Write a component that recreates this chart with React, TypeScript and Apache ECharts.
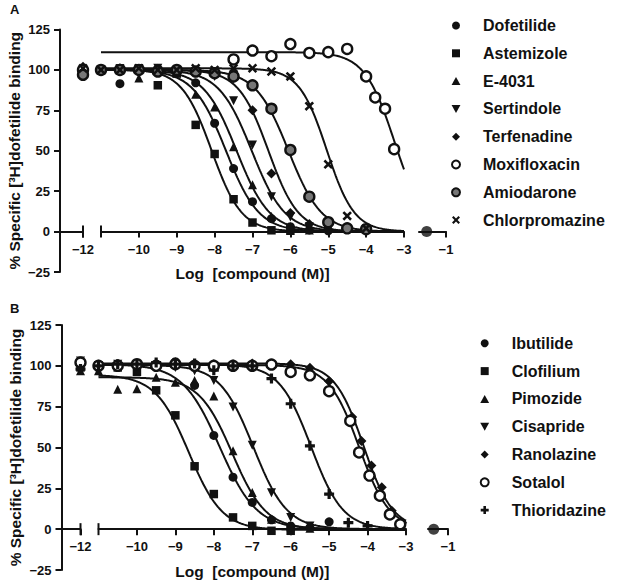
import { useEffect, useRef } from "react";
import * as echarts from "echarts";

// ---------------- Panel A data ----------------
const A_NAMES = ["Dofetilide", "Astemizole", "E-4031", "Sertindole", "Terfenadine", "Moxifloxacin", "Amiodarone", "Chlorpromazine"];

const A_DOFETILIDE_LOG = [-11, -10.5, -10, -9.5, -9, -8.5, -8, -7.5, -7, -6.5, -6, -5.5, -5];
const A_DOFETILIDE_VAL = [100, 91.5, 100, 99, 98, 92, 67, 39, 18.5, 8, 3, 1, 0.5];
const A_ASTEMIZOLE_LOG = [-11, -10.5, -10, -9.5, -9, -8.5, -8, -7.5, -7, -6.5, -6];
const A_ASTEMIZOLE_VAL = [100, 101, 101, 90.5, 98, 66, 48, 20, 5.6, 0.8, 0.5];
const A_E4031_LOG = [-11, -10.5, -10, -9.5, -9, -8.5, -8, -7.5, -7, -6.5, -6, -5.5];
const A_E4031_VAL = [100, 100, 95, 101, 98, 85, 77, 52.5, 29, 9.3, 3, 1];
const A_SERTINDOLE_LOG = [-11, -10.5, -10, -9.5, -9, -8.5, -8, -7.5, -7, -6.5, -6, -5.5, -5];
const A_SERTINDOLE_VAL = [100, 100, 100, 101, 99, 98, 96, 81, 53.5, 21.6, 9, 3, 1];
const A_TERFENADINE_LOG = [-11, -10.5, -10, -9.5, -9, -8.5, -8, -7.5, -7, -6.5, -6, -5.5, -5];
const A_TERFENADINE_VAL = [100, 101, 100, 100, 99, 99, 97, 95, 75, 36, 11.5, 4.7, 1.5];
const A_MOXIFLOXACIN_LOG = [-7.5, -7, -6.5, -6, -5.5, -5, -4.5, -4, -3.76, -3.5, -3.26];
const A_MOXIFLOXACIN_VAL = [106.5, 112, 108.5, 116, 110.5, 111, 113, 96, 83, 76, 51];
const A_AMIODARONE_LOG = [-11, -10.5, -10, -9.5, -9, -8.5, -8, -7.5, -7, -6.5, -6, -5.5, -5, -4.5, -4];
const A_AMIODARONE_VAL = [100, 100, 100, 99, 100, 99, 98, 96, 90.5, 76, 50.5, 21.6, 5.8, 2, 1.5];
const A_CHLORPROMAZINE_LOG = [-11, -10.5, -10, -9.5, -9, -8.5, -8, -7.5, -7, -6.5, -6, -5.5, -5, -4.5, -4];
const A_CHLORPROMAZINE_VAL = [100, 100, 101, 100, 100, 101, 100, 101, 101, 99, 96, 77.6, 41.6, 9.7, 2];

const A_LOGS = [A_DOFETILIDE_LOG, A_ASTEMIZOLE_LOG, A_E4031_LOG, A_SERTINDOLE_LOG, A_TERFENADINE_LOG, A_MOXIFLOXACIN_LOG, A_AMIODARONE_LOG, A_CHLORPROMAZINE_LOG];
const A_VALS = [A_DOFETILIDE_VAL, A_ASTEMIZOLE_VAL, A_E4031_VAL, A_SERTINDOLE_VAL, A_TERFENADINE_VAL, A_MOXIFLOXACIN_VAL, A_AMIODARONE_VAL, A_CHLORPROMAZINE_VAL];
const A_CONTROL = [100, 98, 101, 99, 102, 100, 97, 101]; // at log -12
const A_FIT_LOGIC50 = [-7.7, -8.08, -7.42, -7.02, -6.58, -3.25, -6.05, -5.04];
const A_FIT_HILL = [1, 1.1, 1, 1, 1.1, 1.1, 1, 1.2];
const A_FIT_TOP = [100, 100.5, 100, 100, 100, 111, 100, 101];
const A_FIT_BOTTOM = [0, 0, 0, 0, 0, 0, 0, 0];

// ---------------- Panel B data ----------------
const B_NAMES = ["Ibutilide", "Clofilium", "Pimozide", "Cisapride", "Ranolazine", "Sotalol", "Thioridazine"];

const B_IBUTILIDE_LOG = [-11, -10.5, -10, -9.5, -9, -8.5, -8, -7.5, -7, -6.5, -6, -5.5, -5];
const B_IBUTILIDE_VAL = [101, 100, 101, 101, 102.5, 88, 57.4, 31.8, 16.4, 5.7, 2, 1, 4.5];
const B_CLOFILIUM_LOG = [-11, -10.5, -10, -9.5, -9, -8.5, -8, -7.5, -7, -6.5, -6];
const B_CLOFILIUM_VAL = [100, 99, 96.3, 85, 69.7, 38.5, 21.5, 7.2, 2, -1, -1];
const B_PIMOZIDE_LOG = [-11, -10.5, -10, -9.5, -9, -8.5, -8, -7.5, -7, -6.5, -6, -5.5];
const B_PIMOZIDE_VAL = [97, 85.6, 86, 93, 90, 91, 81.5, 48, 22.5, 6, 1.5, 0.5];
const B_CISAPRIDE_LOG = [-11, -10.5, -10, -9.5, -9, -8.5, -8, -7.5, -7, -6.5, -6, -5.5];
const B_CISAPRIDE_VAL = [100, 101, 100, 100, 99, 97, 91, 74.8, 51.4, 22.3, 7.2, 2];
const B_RANOLAZINE_LOG = [-11, -10.5, -10, -9.5, -9, -8.5, -8, -7.5, -7, -6.5, -6, -5.5, -5, -4.4, -4.16, -3.9, -3.63, -3.37, -3.1];
const B_RANOLAZINE_VAL = [100, 101, 100, 101, 102, 101, 101, 101, 101.4, 101, 101, 98.8, 90.5, 68.7, 54, 39, 25.6, 11.3, 4];
const B_SOTALOL_LOG = [-11, -10.5, -10, -9.5, -9, -8.5, -8, -7.5, -7, -6.5, -6, -5.5, -5, -4.45, -4.22, -3.95, -3.68, -3.42, -3.15];
const B_SOTALOL_VAL = [100, 100, 101, 100, 101, 100, 100, 100, 100, 100.8, 96.3, 94.2, 84.5, 66.3, 47, 32.8, 20.5, 9, 3];
const B_THIORIDAZINE_LOG = [-11, -10.5, -10, -9.5, -9, -8.5, -8, -7.5, -7, -6.5, -6, -5.5, -5, -4.5, -4];
const B_THIORIDAZINE_VAL = [100, 101, 101, 102, 101, 101.4, 97.3, 100, 100, 92.2, 76.8, 51, 21.5, 4, 2];

const B_LOGS = [B_IBUTILIDE_LOG, B_CLOFILIUM_LOG, B_PIMOZIDE_LOG, B_CISAPRIDE_LOG, B_RANOLAZINE_LOG, B_SOTALOL_LOG, B_THIORIDAZINE_LOG];
const B_VALS = [B_IBUTILIDE_VAL, B_CLOFILIUM_VAL, B_PIMOZIDE_VAL, B_CISAPRIDE_VAL, B_RANOLAZINE_VAL, B_SOTALOL_VAL, B_THIORIDAZINE_VAL];
const B_CONTROL = [101, 99, 97, 103, 100, 102, 98];
const B_FIT_LOGIC50 = [-7.85, -8.65, -7.52, -6.97, -4.1, -4.22, -5.47];
const B_FIT_HILL = [0.9, 1, 1, 1, 1.15, 1.1, 1.05];
const B_FIT_TOP = [101, 94.5, 93, 100.5, 101.5, 100.5, 101];
const B_FIT_BOTTOM = [0, -0.5, 0, 0, 0, 0, 0];

// non-specific binding point (right-hand segment)
const NSB_LOG = -1.5;
const NSB_VAL = 0;

// axis ticks
const X_TICKS_LEFT = [-12];
const X_TICKS_MAIN = [-10, -9, -8, -7, -6, -5, -4, -3];
const X_TICKS_RIGHT = [-1];
const X_MAIN_MIN = -11;
const X_MAIN_MAX = -3;
const X_RIGHT_MIN = -1.7;
const Y_MIN = -25;
const Y_MAX = 125;
const Y_STEP = 25;

// ---------------- styles ----------------
const FONT = "Liberation Sans, Arial, sans-serif";
const BLACK = "#111";
const SYM_RECT = "path://M0,0H10V10H0Z";
const SYM_TRI = "path://M5,0L10,9L0,9Z";
const SYM_INVTRI = "path://M0,0L10,0L5,9Z";
const SYM_DIAMOND = "path://M5,0L10,5L5,10L0,5Z";
const SYM_X = "path://M0,1.9L1.9,0L5,3.1L8.1,0L10,1.9L6.9,5L10,8.1L8.1,10L5,6.9L1.9,10L0,8.1L3.1,5Z";
const SYM_PLUS = "path://M3.4,0H6.6V3.4H10V6.6H6.6V10H3.4V6.6H0V3.4H3.4Z";

type Sty = { symbol: string; size: number; fill: string; border: string; bw: number };
const filled = (symbol: string, size: number): Sty => ({ symbol, size, fill: BLACK, border: BLACK, bw: 0 });
const OPEN_CIRCLE: Sty = { symbol: "circle", size: 10, fill: "#fff", border: BLACK, bw: 2.4 };
const DOT_CIRCLE: Sty = { symbol: "circle", size: 10, fill: "#777", border: BLACK, bw: 2.4 };

const A_STYLES: Sty[] = [
  filled("circle", 9), filled(SYM_RECT, 8.5), filled(SYM_TRI, 9), filled(SYM_INVTRI, 9),
  filled(SYM_DIAMOND, 10), OPEN_CIRCLE, DOT_CIRCLE, filled(SYM_X, 9.5),
];
const B_STYLES: Sty[] = [
  filled("circle", 9), filled(SYM_RECT, 8.5), filled(SYM_TRI, 9), filled(SYM_INVTRI, 9),
  filled(SYM_DIAMOND, 10), OPEN_CIRCLE, filled(SYM_PLUS, 10),
];

const minus = (v: number) => (v < 0 ? "\u2212" + Math.abs(v) : String(v));

function hillCurve(c: number, h: number, top: number, bottom: number) {
  const pts: number[][] = [];
  const n = 320;
  for (let k = 0; k <= n; k++) {
    const L = X_MAIN_MIN + ((X_MAIN_MAX - X_MAIN_MIN) * k) / n;
    pts.push([L, bottom + (top - bottom) / (1 + Math.pow(10, (L - c) * h))]);
  }
  return pts;
}

type Layout = {
  top: number; height: number; yAxisX: number; leftEnd: number;
  mainLeft: number; mainRight: number; rightLeft: number; rightEnd: number;
  legendLeft: number; legendTop: number;
};

const LAYOUT_A: Layout = {
  top: 29.5, height: 242.5, yAxisX: 60, leftEnd: 83, mainLeft: 101, mainRight: 404,
  rightLeft: 419, rightEnd: 446, legendLeft: 446, legendTop: 12.5,
};
const LAYOUT_B: Layout = {
  top: 325, height: 245, yAxisX: 61.5, leftEnd: 80.5, mainLeft: 98.5, mainRight: 406,
  rightLeft: 428, rightEnd: 448, legendLeft: 474.7, legendTop: 330.3,
};

const axisLineStyle = { color: BLACK, width: 2 };
const tickLabel = { fontSize: 13, fontWeight: "bold" as const, fontFamily: FONT, color: BLACK };

function buildPanel(
  g: number, L: Layout, names: string[], logs: number[][], vals: number[][], control: number[],
  ic50: number[], hill: number[], top: number[], bottom: number[], styles: Sty[],
) {
  const unit = (L.mainRight - L.mainLeft) / (X_MAIN_MAX - X_MAIN_MIN);
  const leftMin = -12 - (L.leftEnd - L.yAxisX) / unit;
  // x axis drawn along the y = 0 line: shift it up from the grid's bottom edge
  const zeroOffset = -(L.height * (0 - Y_MIN)) / (Y_MAX - Y_MIN);
  const grids = [
    { left: L.yAxisX, top: L.top, width: L.leftEnd - L.yAxisX, height: L.height, outerBoundsMode: "none" },
    { left: L.mainLeft, top: L.top, width: L.mainRight - L.mainLeft, height: L.height, outerBoundsMode: "none" },
    { left: L.rightLeft, top: L.top, width: L.rightEnd - L.rightLeft, height: L.height, outerBoundsMode: "none" },
  ];
  const xBase = (gi: number, min: number, max: number, ticks: number[], symbol: string[]) => ({
    type: "value", gridIndex: gi, min, max, position: "bottom", offset: zeroOffset,
    axisLine: { show: true, onZero: false, lineStyle: axisLineStyle, symbol, symbolSize: [12, 2] },
    axisTick: { show: true, customValues: ticks, length: 6, lineStyle: { color: BLACK, width: 2 } },
    axisLabel: { show: true, customValues: ticks, formatter: minus, margin: 11, ...tickLabel },
    splitLine: { show: false },
  });
  const xAxes = [
    xBase(g, leftMin, -12, X_TICKS_LEFT, ["none", "rect"]),
    {
      ...xBase(g + 1, X_MAIN_MIN, X_MAIN_MAX, X_TICKS_MAIN, ["rect", "none"]),
      name: "Log  [compound (M)]", nameLocation: "middle", nameGap: 34,
      nameTextStyle: { fontSize: 15.5, fontWeight: "bold", fontFamily: FONT, color: BLACK },
    },
    xBase(g + 2, X_RIGHT_MIN, -1, X_TICKS_RIGHT, ["none", "none"]),
  ];
  const yAxes = [
    {
      type: "value", gridIndex: g, min: Y_MIN, max: Y_MAX, interval: Y_STEP,
      axisLine: { show: true, onZero: false, lineStyle: axisLineStyle },
      axisTick: { show: true, length: 6, lineStyle: { color: BLACK, width: 2 } },
      axisLabel: { formatter: minus, margin: 10, ...tickLabel },
      splitLine: { show: false },
      name: "% Specific [\u00B3H]dofetilide binding", nameLocation: "middle", nameGap: 38,
      nameTextStyle: { fontSize: 15.5, fontWeight: "bold", fontFamily: FONT, color: BLACK },
    },
    { type: "value", gridIndex: g + 1, min: Y_MIN, max: Y_MAX, show: false },
    { type: "value", gridIndex: g + 2, min: Y_MIN, max: Y_MAX, show: false },
  ];
  const series: any[] = [];
  const sym = (s: Sty) => ({
    symbol: s.symbol, symbolSize: s.size,
    itemStyle: { color: s.fill, borderColor: s.border, borderWidth: s.bw, opacity: 1 },
  });
  names.forEach((name, i) => {
    series.push({
      type: "scatter", name, xAxisIndex: g + 1, yAxisIndex: g + 1, z: 4, silent: true,
      data: logs[i].map((l, j) => [l, vals[i][j]]), ...sym(styles[i]),
    });
  });
  names.forEach((name, i) => {
    series.push({
      type: "line", name: name + " fit", xAxisIndex: g + 1, yAxisIndex: g + 1, z: 3, silent: true,
      data: hillCurve(ic50[i], hill[i], top[i], bottom[i]), symbol: "none", showSymbol: false,
      lineStyle: { color: BLACK, width: 2 },
    });
    series.push({
      type: "scatter", name, xAxisIndex: g, yAxisIndex: g, z: 4, silent: true,
      data: [[-12, control[i]]], ...sym(styles[i]),
    });
  });
  series.push({
    type: "scatter", name: names[0], xAxisIndex: g + 2, yAxisIndex: g + 2, z: 4, silent: true,
    data: [[NSB_LOG, NSB_VAL]], symbol: "circle", symbolSize: 11, itemStyle: { color: BLACK },
    clip: false,
  });
  const legend = {
    data: names, orient: "vertical", left: L.legendLeft, top: L.legendTop,
    itemWidth: 44, itemHeight: 8, itemGap: 11.8, selectedMode: false,
    textStyle: { fontSize: 16, fontWeight: "bold", fontFamily: FONT, color: BLACK, lineHeight: 16 },
  };
  return { grids, xAxes, yAxes, series, legend };
}

export default function App() {
  const ref = useRef<HTMLDivElement>(null);
  useEffect(() => {
    if (!ref.current) return;
    const chart = echarts.init(ref.current, undefined, { renderer: "svg" });
    const a = buildPanel(0, LAYOUT_A, A_NAMES, A_LOGS, A_VALS, A_CONTROL, A_FIT_LOGIC50, A_FIT_HILL, A_FIT_TOP, A_FIT_BOTTOM, A_STYLES);
    const b = buildPanel(3, LAYOUT_B, B_NAMES, B_LOGS, B_VALS, B_CONTROL, B_FIT_LOGIC50, B_FIT_HILL, B_FIT_TOP, B_FIT_BOTTOM, B_STYLES);
    chart.setOption({
      animation: false,
      backgroundColor: "#fff",
      grid: [...a.grids, ...b.grids],
      xAxis: [...a.xAxes, ...b.xAxes],
      yAxis: [...a.yAxes, ...b.yAxes],
      series: [...a.series, ...b.series],
      legend: [a.legend, b.legend],
      graphic: [
        { type: "text", left: 10, top: 3, style: { text: "A", fontSize: 13, fontWeight: "bold", fontFamily: FONT, fill: BLACK } },
        { type: "text", left: 10, top: 302, style: { text: "B", fontSize: 13, fontWeight: "bold", fontFamily: FONT, fill: BLACK } },
      ],
    } as any);
    return () => chart.dispose();
  }, []);
  return (
    <div
      ref={ref}
      style={{ position: "fixed", left: 0, top: 0, width: 629, height: 584, background: "#fff" }}
    />
  );
}
